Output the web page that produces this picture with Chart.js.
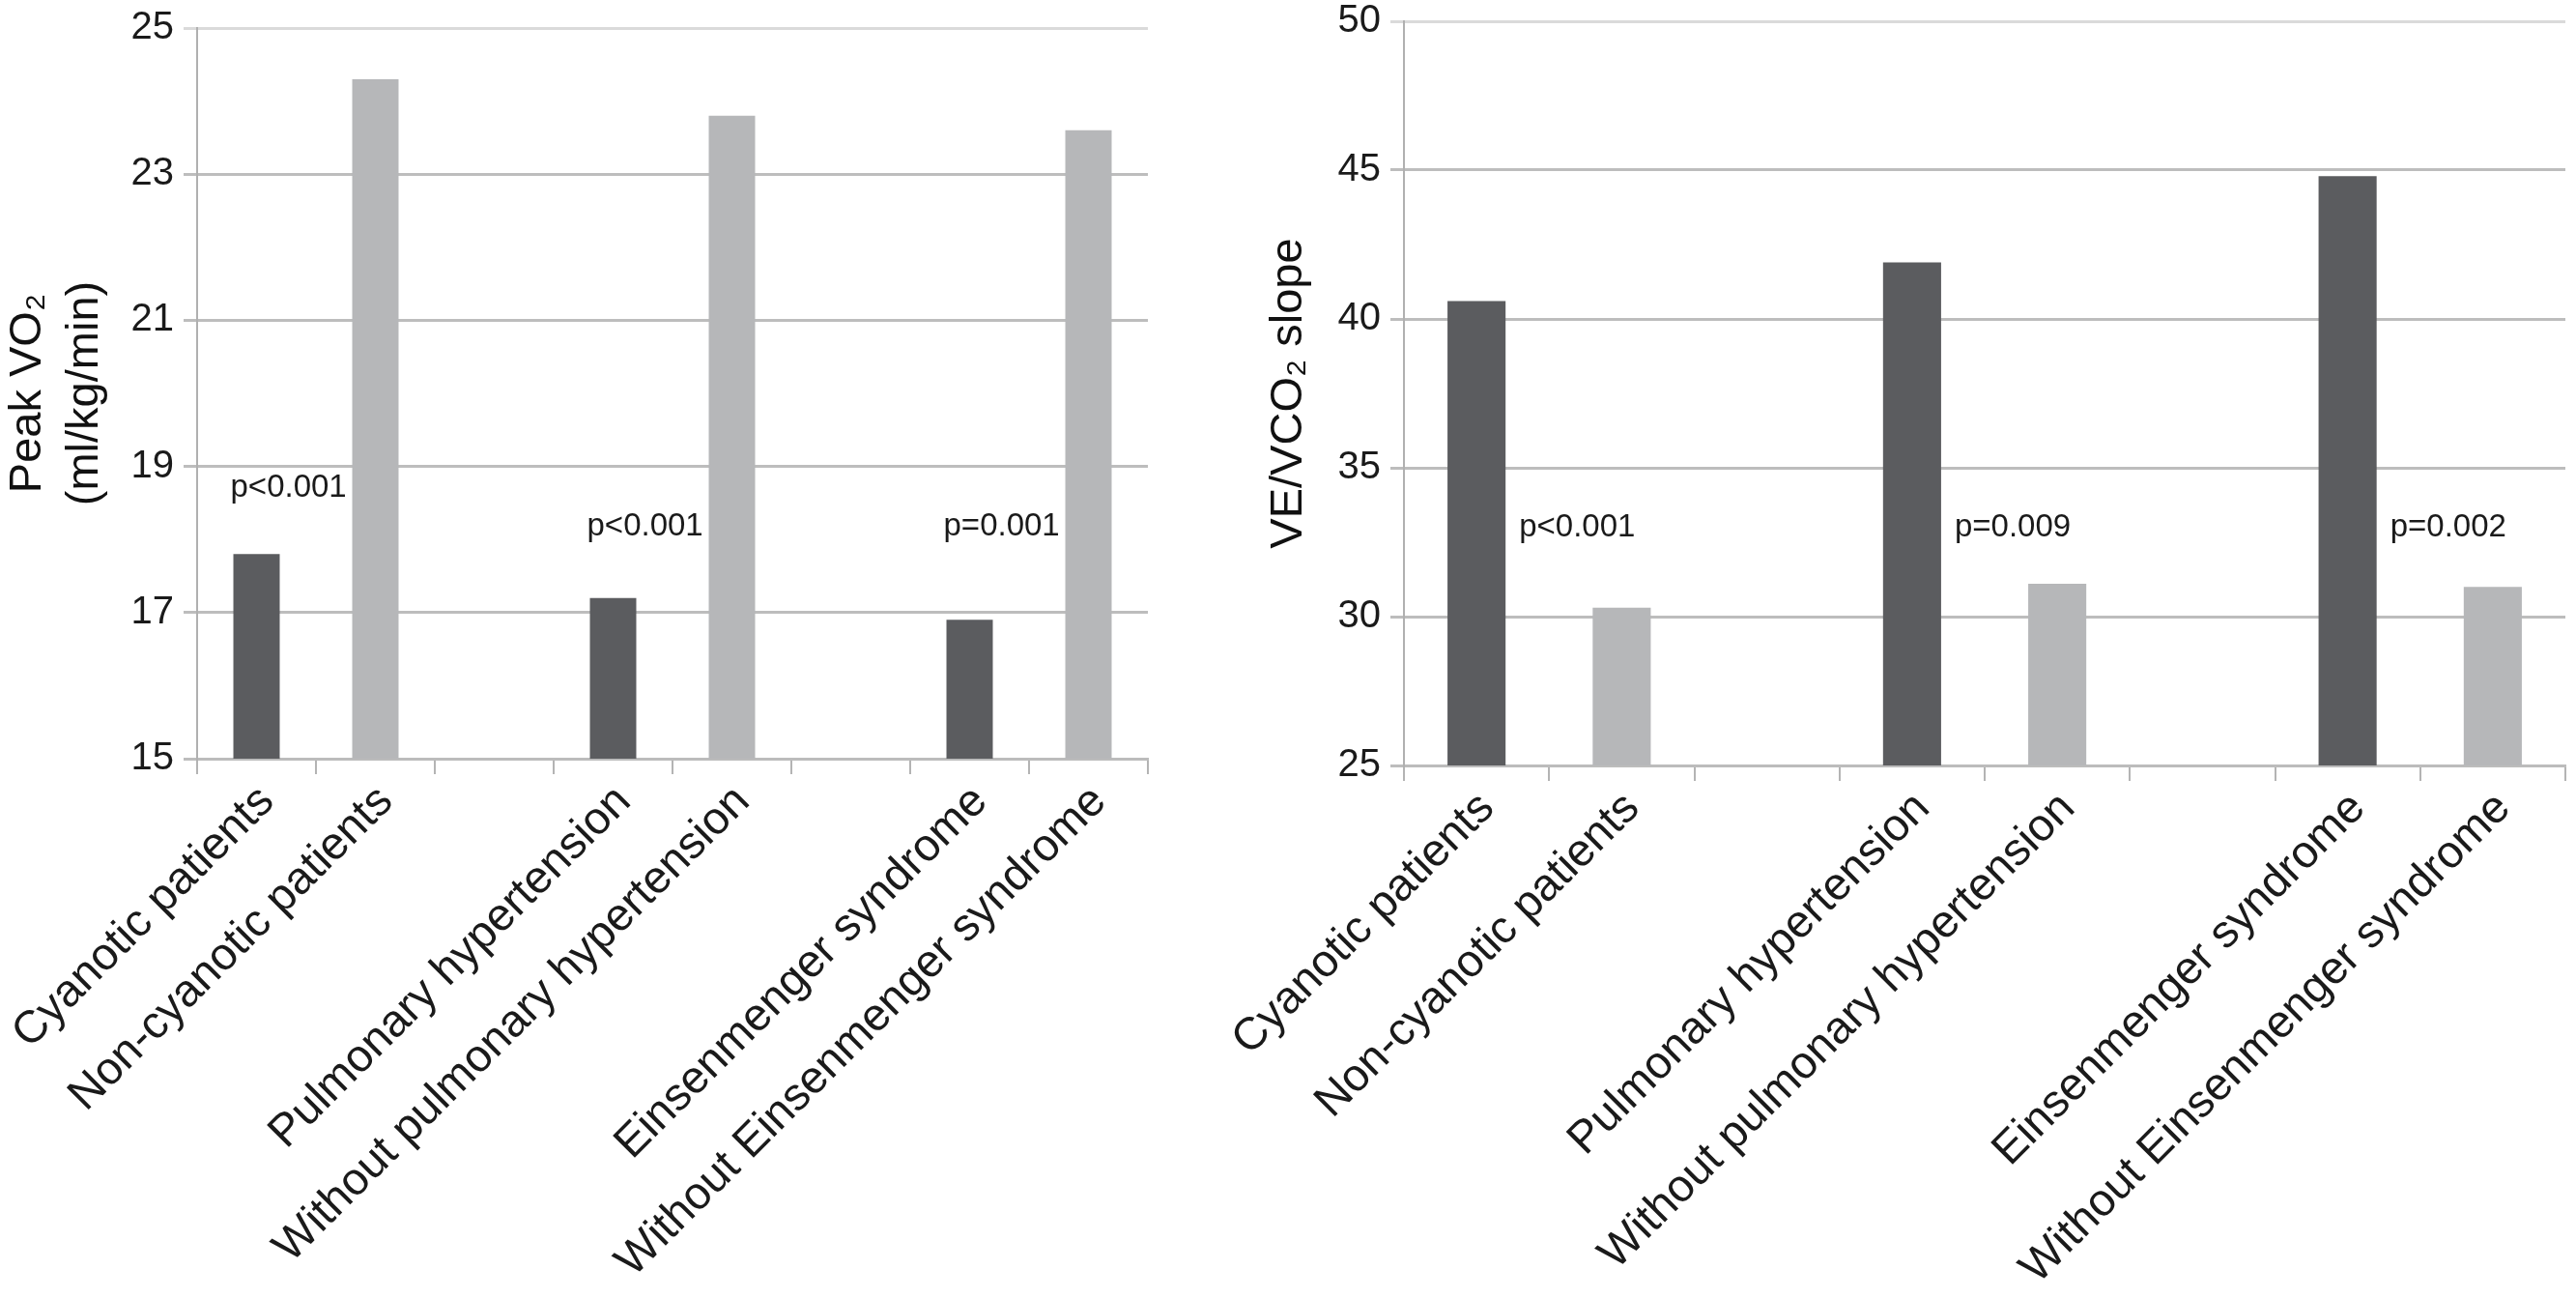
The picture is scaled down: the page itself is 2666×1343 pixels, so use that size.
<!DOCTYPE html>
<html>
<head>
<meta charset="utf-8">
<script src="https://cdn.jsdelivr.net/npm/chart.js@4.4.0/dist/chart.umd.min.js"></script>
<style>
  html, body { margin: 0; padding: 0; background: #fff; }
  body { width: 2666px; height: 1343px; position: relative; overflow: hidden; }
  .caja { position: absolute; top: 0; height: 1343px; }
  #cajaIzq { left: 0; width: 1240px; }
  #cajaDer { left: 1240px; width: 1426px; }
</style>
</head>
<body>
<div class="caja" id="cajaIzq"><canvas id="graficoVO2"></canvas></div>
<div class="caja" id="cajaDer"><canvas id="graficoVE"></canvas></div>
<script>
// =========================
// DATOS
// =========================
const categorias = [
  "Cyanotic patients", "Non-cyanotic patients", "",
  "Pulmonary hypertension", "Without pulmonary hypertension", "",
  "Einsenmenger syndrome", "Without Einsenmenger syndrome"
];
const peakVO2 = [17.8, 24.3, null, 17.2, 23.8, null, 16.9, 23.6];
const pendienteVE = [40.6, 30.3, null, 41.9, 31.1, null, 44.8, 31.0];

const ticksVO2 = [15, 17, 19, 21, 23, 25];
const ticksVE = [25, 30, 35, 40, 45, 50];

const pTextosVO2 = ["p<0.001", "p<0.001", "p=0.001"];
const pTextosVE = ["p<0.001", "p=0.009", "p=0.002"];

// =========================
// ESTILO
// =========================
const FUENTE = '"Liberation Sans", Arial, Helvetica, sans-serif';
const OSCURO = "#5b5c5f";
const CLARO = "#b6b7b9";
const coloresBarras = categorias.map((c, i) => (i % 3 === 0 ? OSCURO : CLARO));

// texto de p junto a las barras
const pluginP = {
  id: "pValores",
  afterDatasetsDraw(chart, args, opts) {
    const ctx = chart.ctx;
    const meta = chart.getDatasetMeta(0);
    const y = chart.scales.y;
    ctx.save();
    ctx.font = "33px " + FUENTE;
    ctx.fillStyle = "#1a1a1a";
    ctx.textAlign = "left";
    ctx.textBaseline = "middle";
    opts.textos.forEach((t, i) => {
      const bar = meta.data[opts.barras[i]];
      const x = opts.lado === "izq" ? bar.x - bar.width / 2 - 3 : bar.x + bar.width / 2 + 14;
      ctx.fillText(t, x, y.getPixelForValue(opts.alturas[i]));
    });
    ctx.restore();
  }
};

function crearGrafico(id, valores, ticks, titulo, cfg) {
  const min = ticks[0], max = ticks[ticks.length - 1];
  return new Chart(document.getElementById(id), {
    type: "bar",
    data: {
      labels: categorias,
      datasets: [{
        data: valores,
        backgroundColor: coloresBarras,
        borderWidth: 0,
        barPercentage: cfg.anchoBarra,
        categoryPercentage: 1
      }]
    },
    plugins: [pluginP],
    options: {
      responsive: true,
      maintainAspectRatio: false,
      animation: false,
      devicePixelRatio: 1,
      layout: { padding: { top: cfg.arriba, right: cfg.derecha, left: 0, bottom: 0 } },
      plugins: {
        legend: { display: false },
        tooltip: { enabled: false },
        pValores: cfg.p
      },
      scales: {
        x: {
          grid: { drawOnChartArea: false, drawTicks: true, tickLength: 16, color: "#b4b4b4", lineWidth: 2 },
          border: { display: true, color: "#bcbcbc", width: 3 },
          ticks: {
            autoSkip: false, minRotation: 45, maxRotation: 45, padding: 1, labelOffset: 11,
            color: "#1a1a1a", font: { family: FUENTE, size: 47 }
          },
          afterFit: s => { s.height = cfg.altoX; s.paddingLeft = 0; s.paddingRight = 0; }
        },
        y: {
          min: min, max: max,
          afterBuildTicks: s => { s.ticks = ticks.map(v => ({ value: v })); },
          grid: {
            tickLength: 14,
            lineWidth: 3,
            color: c => (c.tick && c.tick.value === max ? "#dadada" : "#bdbdbd")
          },
          border: { display: true, color: "#b0b0b0", width: 2 },
          ticks: { padding: 10, color: "#1a1a1a", font: { family: FUENTE, size: 40 } },
          title: {
            display: true, text: titulo, color: "#111",
            padding: { top: cfg.tituloPad, bottom: 0 },
            font: { family: FUENTE, size: 47, lineHeight: 1.25 }
          },
          afterFit: s => { s.width = cfg.anchoY; s.paddingTop = 0; s.paddingBottom = 0; }
        }
      }
    }
  });
}

// =========================
// INICIALIZACIÓN
// =========================
crearGrafico("graficoVO2", peakVO2, ticksVO2, ["Peak VO\u2082", "(ml/kg/min)"], {
  anchoBarra: 0.39, arriba: 29, derecha: 52, altoX: 558, anchoY: 204, tituloPad: 0,
  p: { lado: "izq", textos: pTextosVO2, barras: [0, 3, 6], alturas: [18.7, 18.17, 18.17] }
});

crearGrafico("graficoVE", pendienteVE, ticksVE, "VE/VCO\u2082 slope", {
  anchoBarra: 0.4, arriba: 22, derecha: 11, altoX: 551, anchoY: 213, tituloPad: 65,
  p: { lado: "der", textos: pTextosVE, barras: [0, 3, 6], alturas: [33.0, 33.0, 33.0] }
});
</script>
</body>
</html>
